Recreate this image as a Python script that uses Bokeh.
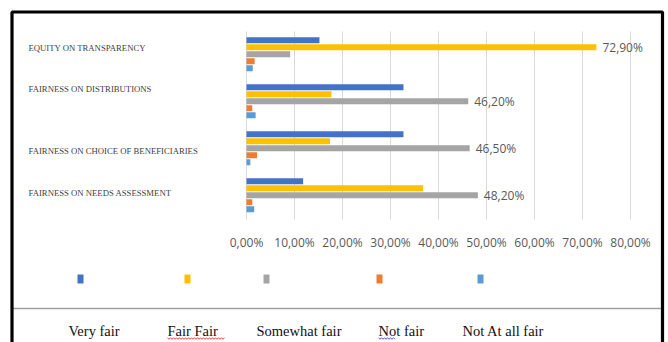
import numpy as np
from bokeh.plotting import figure
from bokeh.models import Range1d, ColumnDataSource
from bokeh.core.properties import value
from bokeh.embed import file_html
from bokeh.resources import INLINE

# ---------------- data ----------------
categories = ["EQUITY ON TRANSPARENCY", "FAIRNESS ON DISTRIBUTIONS",
              "FAIRNESS ON CHOICE OF BENEFICIARIES", "FAIRNESS ON NEEDS ASSESSMENT"]
series = ["Very fair", "Fair Fair", "Somewhat fair", "Not fair", "Not At all fair"]
very_fair = [15.2, 32.7, 32.7, 11.8]
fair_fair = [72.9, 17.7, 17.4, 36.8]
somewhat_fair = [9.1, 46.2, 46.5, 48.2]
not_fair = [1.7, 1.2, 2.2, 1.2]
not_at_all_fair = [1.3, 1.9, 0.8, 1.6]
x_ticks = [0, 10, 20, 30, 40, 50, 60, 70, 80]

colors = ["#4472C4", "#FFC000", "#A5A5A5", "#ED7D31", "#5B9BD5"]
values = [very_fair, fair_fair, somewhat_fair, not_fair, not_at_all_fair]

# ---------------- layout constants (pixels) ----------------
W, H = 668, 342
PLOT_L, PLOT_R = 246, 630          # x of 0 % and 80 %
SLOT = 7.0                         # bar pitch in px
FIRST_BAR = 39.7                   # px from top of first bar centre
GROUP_PERIOD = 47.0 / SLOT         # slots per category group

px_per_unit = (PLOT_R - PLOT_L) / 80.0
x_start = -PLOT_L / px_per_unit
x_end = (W - PLOT_L) / px_per_unit

p = figure(width=W, height=H, output_backend="svg", toolbar_location=None,
           x_range=Range1d(x_start, x_end),
           y_range=Range1d((H - FIRST_BAR) / SLOT, -FIRST_BAR / SLOT),
           x_axis_location=None, y_axis_location=None, min_border=0)
p.extra_x_ranges = {"px": Range1d(0, W)}
p.extra_y_ranges = {"px": Range1d(H, 0)}
p.xgrid.visible = False
p.ygrid.visible = False
p.outline_line_color = None
p.background_fill_color = "white"
p.border_fill_color = "white"

# vertical gridlines at the ticks
p.segment(x0=x_ticks, x1=x_ticks, y0=[31] * len(x_ticks), y1=[219] * len(x_ticks),
          y_range_name="px", line_color="#D9D9D9", line_width=1)

# bars
for si, (s, vals, col) in enumerate(zip(series, values, colors)):
    ys = [gi * GROUP_PERIOD + si for gi in range(len(categories))]
    src = ColumnDataSource(dict(y=ys, x=vals))
    p.hbar(y="y", right="x", left=0, height=0.86, source=src,
           fill_color=col, line_color=None)

# data labels on the largest value per category
lab_y, lab_x, lab_t = [], [], []
for gi, c in enumerate(categories):
    vals = [v[gi] for v in values]
    m = max(vals)
    lab_y.append(gi * GROUP_PERIOD + vals.index(m))
    lab_x.append(m)
    lab_t.append(f"{m:.2f}".replace(".", ",") + "%")
p.text(x=lab_x, y=lab_y, text=lab_t, x_offset=6, text_baseline="middle",
       text_align="left", text_font=value("Open Sans"), text_font_size="12px",
       text_color="#595959")

# x tick labels
tick_text = [f"{t:.2f}".replace(".", ",") + "%" for t in x_ticks]
p.text(x=x_ticks, y=[242] * len(x_ticks), text=tick_text, y_range_name="px",
       text_align="center", text_baseline="middle",
       text_font=value("Open Sans"), text_font_size="12px", text_color="#595959")

# category labels, left aligned
cat_label_y = [47, 88, 150, 192]
p.text(x=[28] * len(categories), y=cat_label_y, text=categories,
       x_range_name="px", y_range_name="px", text_align="left",
       text_baseline="middle", text_font=value("Liberation Serif"),
       text_font_size="8.7px", text_color="#404040")

# legend markers and texts
marker_x = [80, 187, 266, 379, 480]
text_x = [68, 167, 256, 378, 462]
p.quad(left=[m - 3 for m in marker_x], right=[m + 3 for m in marker_x],
       top=[274] * 5, bottom=[283] * 5, fill_color=colors, line_color=None,
       x_range_name="px", y_range_name="px")
p.text(x=text_x, y=[330] * 5, text=series, x_range_name="px", y_range_name="px",
       text_align="left", text_baseline="middle",
       text_font=value("Liberation Serif"), text_font_size="14.5px",
       text_color="#111111")

# spell-check squiggles under "Fair Fair" (red) and "Not" (blue)
def squiggle(x0, x1, y):
    xs = np.arange(x0, x1 + 0.1, 1.5)
    ys = y + np.where(np.arange(len(xs)) % 2 == 0, -0.8, 0.8)
    return xs, ys
for (x0, x1, col) in [(167, 225, "#E03030"), (378, 395, "#3050E0")]:
    xs, ys = squiggle(x0, x1, 338)
    p.line(xs, ys, x_range_name="px", y_range_name="px", line_color=col,
           line_width=0.9)

# separator line and outer frame
p.segment(x0=[12], x1=[661], y0=[308], y1=[308], x_range_name="px",
          y_range_name="px", line_color="#A0A0A0", line_width=1.6)
p.quad(left=[11.5], right=[662], top=[11.5], bottom=[380], fill_alpha=0,
       line_color="black", line_width=3.2, x_range_name="px", y_range_name="px")

open("out.html", "w").write(file_html(p, INLINE))
